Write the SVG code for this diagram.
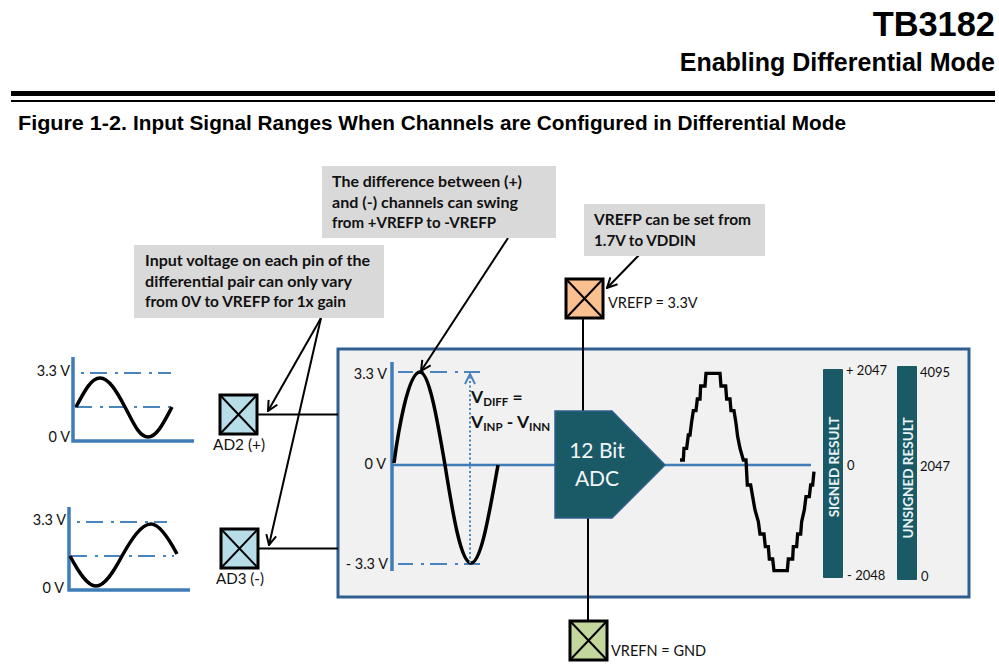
<svg xmlns="http://www.w3.org/2000/svg" width="999" height="672" viewBox="0 0 999 672">
<style>
text{font-family:"Lato","Carlito","Liberation Sans",sans-serif;fill:#111}
.h{font-family:"Liberation Sans",Arial,sans-serif;font-weight:bold;fill:#000}
.c{font-size:15.8px;font-weight:bold;fill:#111}
.l{font-size:14.5px}
.n{font-size:13px}
.v{font-size:17.5px;font-weight:bold}
.s{font-size:11.5px;font-weight:bold}
.w{fill:#f2f6f7;font-size:21px;text-anchor:middle}
.r{fill:#e8f2f4;font-size:13.5px;font-weight:bold;text-anchor:middle}
.ax{fill:none;stroke:#3f7cb8;stroke-width:3.5}
.dd{fill:none;stroke:#4a84bd;stroke-width:2;stroke-dasharray:3 6 17 8}
.sig{fill:none;stroke:#000;stroke-width:3.5}
.pin{stroke:#000;stroke-width:3}
.x{stroke:#000;stroke-width:2;fill:none}
.wire{fill:none;stroke:#000;stroke-width:2}
.call{fill:#d9d9d9}
.bar{fill:#1a5a66}
</style>
<defs>
<marker id="open" viewBox="0 0 12 12" refX="11" refY="6" markerWidth="12" markerHeight="12" markerUnits="userSpaceOnUse" orient="auto"><path d="M1 1 L11 6 L1 11" fill="none" stroke="#000" stroke-width="2"/></marker>
<marker id="blue" viewBox="0 0 12 12" refX="11" refY="6" markerWidth="12" markerHeight="12" markerUnits="userSpaceOnUse" orient="auto"><path d="M1 1 L11 6 L1 11" fill="none" stroke="#4a84bd" stroke-width="2"/></marker>
</defs>

<g id="header">
<text class="h" x="995" y="36" font-size="34.4" text-anchor="end">TB3182</text>
<text class="h" x="995" y="71" font-size="25" text-anchor="end">Enabling Differential Mode</text>
<rect x="11" y="91" width="984" height="5" fill="#000"/>
<rect x="11" y="100" width="984" height="2" fill="#000"/>
<text class="h" x="18" y="130" font-size="20.5" textLength="109" lengthAdjust="spacingAndGlyphs">Figure 1-2.</text>
<text class="h" x="133" y="130" font-size="20.5" textLength="713" lengthAdjust="spacingAndGlyphs">Input Signal Ranges When Channels are Configured in Differential Mode</text>
</g>

<g id="adc-panel"><rect x="338" y="349" width="631" height="248" fill="#f1f1f1" stroke="#2f5f8f" stroke-width="3"/></g>

<g id="connectors">
<path class="wire" d="M258 414.5H338M258 548.5H338M583 318V411M588 518V620"/>
<path class="wire" d="M321 318L268 411" marker-end="url(#open)"/>
<path class="wire" d="M321 318L269 545" marker-end="url(#open)"/>
<path class="wire" d="M508 238L421 371" marker-end="url(#open)"/>
<path class="wire" d="M640 254L607 288" marker-end="url(#open)"/>
</g>

<g id="chart-ad2">
<path class="ax" d="M73 357V441H194"/>
<path class="dd" d="M81 373H171"/>
<path class="dd" d="M75 407H177" stroke-dashoffset="9"/>
<path class="sig" d="M76 407C84 392 91 378 100 378C109 378 117 392 125 407C133 422 139 437 148 437C157 437 164 422 172 407"/>
<text class="l" x="70" y="376" text-anchor="end">3.3 V</text>
<text class="l" x="70" y="442" text-anchor="end">0 V</text>
</g>
<g id="chart-ad3">
<path class="ax" d="M69 507V590H190"/>
<path class="dd" d="M77 522H167"/>
<path class="dd" d="M70 556H174" stroke-dashoffset="9"/>
<path class="sig" d="M70 556C78 571 87 586 96 586C105 586 114 571 122 556C131 540 141 524 151 524C159 524 168 537 177 554"/>
<text class="l" x="66" y="525" text-anchor="end">3.3 V</text>
<text class="l" x="64" y="593" text-anchor="end">0 V</text>
</g>

<g id="pin-ad2"><rect class="pin" x="220" y="395" width="37" height="39" fill="#b7dde8"/><path class="x" d="M220 395L257 434M257 395L220 434"/><text class="l" x="213" y="450" textLength="52" lengthAdjust="spacingAndGlyphs">AD2 (+)</text></g>
<g id="pin-ad3"><rect class="pin" x="221" y="529" width="37" height="39" fill="#b7dde8"/><path class="x" d="M221 529L258 568M258 529L221 568"/><text class="l" x="216" y="584" textLength="48" lengthAdjust="spacingAndGlyphs">AD3 (-)</text></g>
<g id="pin-vrefp"><rect class="pin" x="566" y="279" width="37" height="39" fill="#fac090"/><path class="x" d="M566 279L603 318M603 279L566 318"/><text class="l" x="608" y="308">VREFP = 3.3V</text></g>
<g id="pin-vrefn"><rect class="pin" x="570" y="621" width="37" height="39" fill="#c3d69b"/><path class="x" d="M570 621L607 660M607 621L570 660"/><text class="l" x="611" y="656">VREFN = GND</text></g>

<g id="callout-input"><rect class="call" x="134" y="245" width="250" height="73"/>
<text class="c" x="145" y="266" textLength="225" lengthAdjust="spacingAndGlyphs">Input voltage on each pin of the</text>
<text class="c" x="145" y="287" textLength="207" lengthAdjust="spacingAndGlyphs">differential pair can only vary</text>
<text class="c" x="145" y="307" textLength="201" lengthAdjust="spacingAndGlyphs">from 0V to VREFP for 1x gain</text></g>
<g id="callout-diff"><rect class="call" x="322" y="166" width="234" height="72"/>
<text class="c" x="332" y="187" textLength="190" lengthAdjust="spacingAndGlyphs">The difference between (+)</text>
<text class="c" x="332" y="208" textLength="186" lengthAdjust="spacingAndGlyphs">and (-) channels can swing</text>
<text class="c" x="332" y="228" textLength="164" lengthAdjust="spacingAndGlyphs">from +VREFP to -VREFP</text></g>
<g id="callout-vrefp"><rect class="call" x="584" y="204" width="181" height="52"/>
<text class="c" x="594" y="225" textLength="157" lengthAdjust="spacingAndGlyphs">VREFP can be set from</text>
<text class="c" x="594" y="246" textLength="102" lengthAdjust="spacingAndGlyphs">1.7V to VDDIN</text></g>

<g id="input-signal">
<path class="ax" d="M392 362V571"/>
<path d="M392 465H555M665 465H811" fill="none" stroke="#3f7cb8" stroke-width="2.5"/>
<path class="dd" d="M398 372H480" stroke-dashoffset="11"/>
<path class="dd" d="M398 564H480" stroke-dashoffset="11"/>
<path class="sig" d="M394 463C398 433 408 372 420 372C429 372 437 418 445 465C453 515 461 563 471 563C481 563 489 515 498 465"/>
<path d="M470 563V374" fill="none" stroke="#4a84bd" stroke-width="2" stroke-dasharray="2 2.5" marker-end="url(#blue)"/>
<text class="l" x="387" y="379" text-anchor="end">3.3 V</text>
<text class="l" x="386" y="469" text-anchor="end">0 V</text>
<text class="l" x="388" y="569" text-anchor="end">- 3.3 V</text>
<text class="v" x="471" y="403">V<tspan class="s" dy="3">DIFF</tspan><tspan dy="-3"> =</tspan></text>
<text class="v" x="471" y="428">V<tspan class="s" dy="3">INP</tspan><tspan dy="-3"> - V</tspan><tspan class="s" dy="3">INN</tspan></text>
</g>

<g id="adc"><path d="M555 411H612L665 465L612 518H555Z" fill="#1a5a66" stroke="#2f5f8f" stroke-width="1.5"/>
<text class="w" x="597" y="458">12 Bit</text><text class="w" x="597" y="486">ADC</text></g>

<g id="output-signal"><path transform="translate(660 340) scale(.3333)" fill="none" stroke="#000" stroke-width="10" d="M60 360H70L72 325H80L85 285H90L95 245L100 212H108L112 177H120L122 138H135L138 100H180L183 138H197L200 177H210L213 212H222L228 250L233 290L240 325L250 360H258L262 435H272L278 470L285 510L295 545L300 582H312L316 620H325L328 657H338L342 692H382L385 657H398L400 620H410L413 582H422L425 545L433 510L438 470H448L452 435H458L462 395"/></g>

<g id="signed-bar"><rect class="bar" x="823" y="369" width="20" height="209" rx="1"/>
<text class="r" transform="translate(838.5 467) rotate(-90)">SIGNED RESULT</text>
<text class="n" x="846" y="375">+ 2047</text><text class="n" x="847" y="470">0</text><text class="n" x="847" y="580">- 2048</text></g>
<g id="unsigned-bar"><rect class="bar" x="897" y="366" width="20" height="214" rx="1"/>
<text class="r" transform="translate(912.5 478) rotate(-90)">UNSIGNED RESULT</text>
<text class="n" x="920" y="377">4095</text><text class="n" x="920" y="471">2047</text><text class="n" x="921" y="581">0</text></g>
</svg>
